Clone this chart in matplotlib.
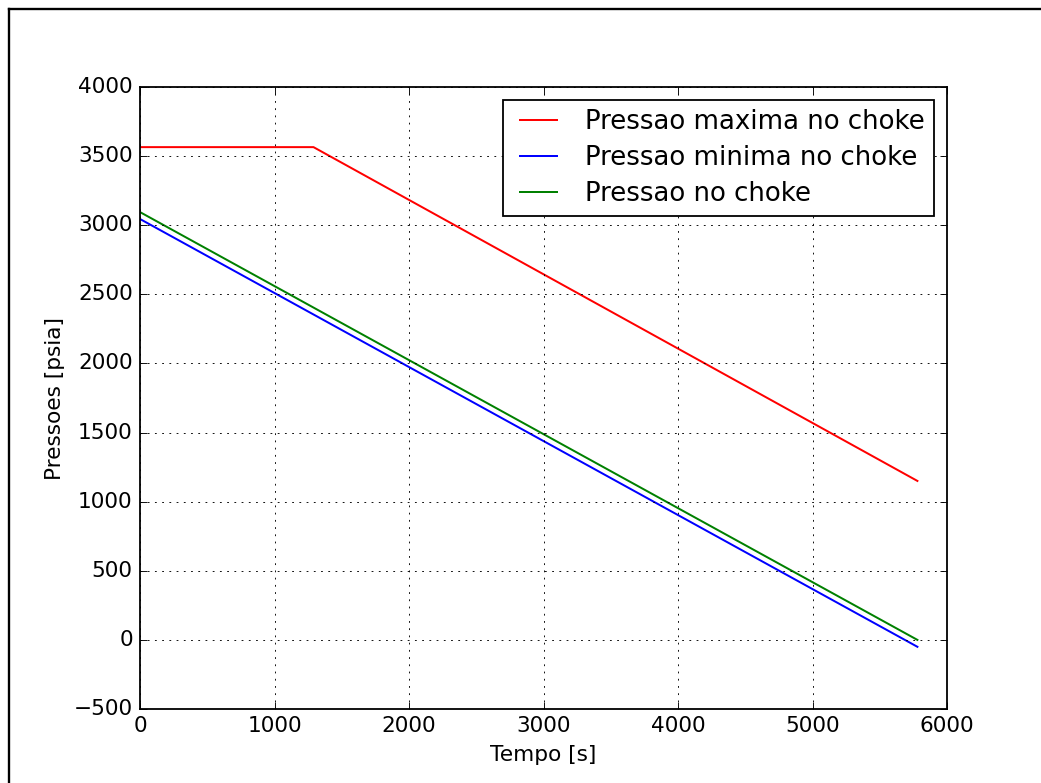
import matplotlib
matplotlib.use('Agg')
import matplotlib.pyplot as plt
from matplotlib.lines import Line2D

# values
t_max = [0, 1290, 5780]
p_max = [3565, 3565, 1150]

t_min = [0, 5780]
p_min = [3045, -50]

t_choke = [0, 5780]
p_choke = [3095, 0]

plt.style.use('classic')

W, H = 1041, 783
fig = plt.figure(figsize=(W / 130, H / 130), dpi=130, facecolor='white')
ax = fig.add_axes([140 / W, 1 - 709 / H, 807 / W, 622 / H])

ax.plot(t_max, p_max, 'r-', lw=1.1, label='Pressao maxima no choke')
ax.plot(t_min, p_min, 'b-', lw=1.1, label='Pressao minima no choke')
ax.plot(t_choke, p_choke, 'g-', lw=1.1, label='Pressao no choke')

ax.set_xlim(0, 6000)
ax.set_ylim(-500, 4000)
ax.set_xticks(range(0, 6001, 1000))
ax.set_yticks(range(-500, 4001, 500))
ax.grid(True)
ax.set_xlabel('Tempo [s]')
ax.set_ylabel('Pressoes [psia]')
ax.legend(loc='upper right', labelspacing=0.38, borderpad=0.35)

# frame of the cropped screenshot (left and top edges only)
x0 = 8.5 / W
y0 = 1 - 8.5 / H
fig.add_artist(Line2D([x0, x0], [0, y0], transform=fig.transFigure, color='black', lw=1.3))
fig.add_artist(Line2D([x0, 1], [y0, y0], transform=fig.transFigure, color='black', lw=1.3))

fig.savefig('out.png', dpi=130, facecolor='white')
